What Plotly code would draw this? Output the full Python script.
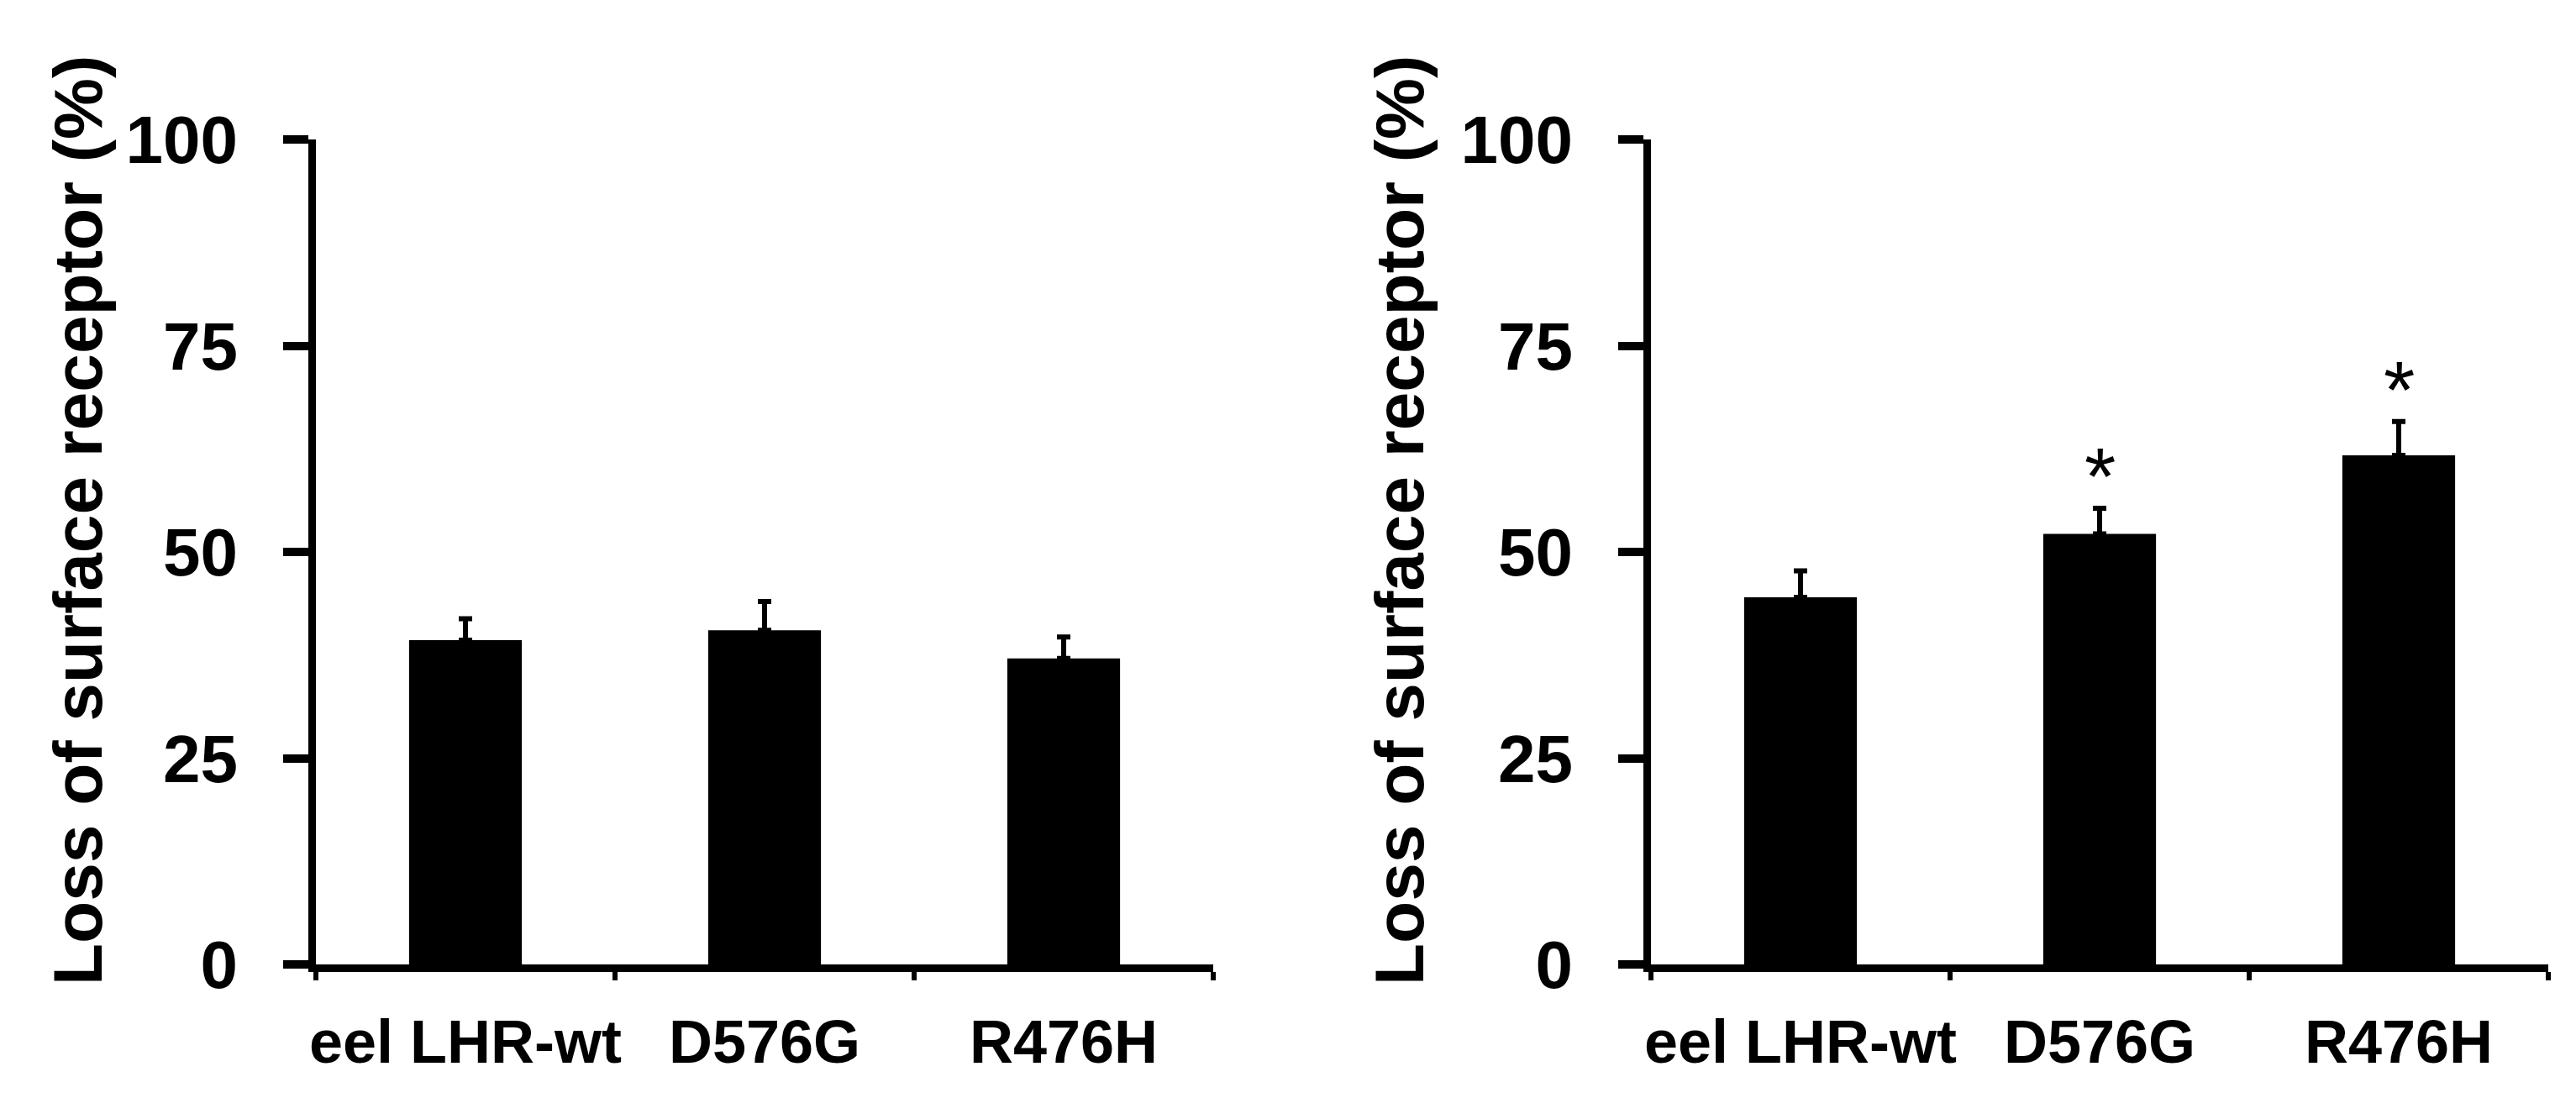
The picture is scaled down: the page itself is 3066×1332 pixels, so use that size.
import plotly.graph_objects as go

categories = ["eel LHR-wt", "D576G", "R476H"]
left_means = [39.3, 40.5, 37.1]
left_err = [2.6, 3.5, 2.6]
right_means = [44.5, 52.2, 61.7]
right_err = [3.2, 3.1, 4.1]
right_sig = ["", "*", "*"]
y_ticks = [0, 25, 50, 75, 100]
y_title = "Loss of surface receptor (%)"

W, H = 3066, 1332
FONT = "Liberation Sans, Arial, sans-serif"

fig = go.Figure()

for idx, (means, errs) in enumerate([(left_means, left_err), (right_means, right_err)]):
    ax = "" if idx == 0 else "2"
    fig.add_trace(go.Bar(
        x=categories, y=means,
        xaxis="x" + ax, yaxis="y" + ax,
        marker=dict(color="black", line=dict(width=0)),
        error_y=dict(type="data", symmetric=False, array=errs,
                     arrayminus=[0] * len(errs),
                     color="black", thickness=6, width=8),
        showlegend=False,
    ))

# significance markers on the right panel
for c, m, e, s in zip(categories, right_means, right_err, right_sig):
    if s:
        fig.add_annotation(x=c, y=m + e, xref="x2", yref="y2", text=s,
                           showarrow=False, yanchor="middle", yshift=38,
                           font=dict(family=FONT, size=96, color="black"))

# y-axis titles (rotated annotations placed where the reference has them)
for xc in [84 / W, 1657 / W]:
    fig.add_annotation(x=xc, y=1 - 612 / H, xref="paper", yref="paper",
                       text=y_title, textangle=-90, showarrow=False,
                       xanchor="center", yanchor="middle",
                       font=dict(family=FONT, size=82, color="black",
                                 weight="bold"))

ydom = [1 - 1140 / H, 1 - 158 / H]
xdom1 = [368 / W, 1436 / W]
xdom2 = [1957 / W, 3025 / W]

def xaxis(dom, anchor):
    return dict(domain=dom, anchor=anchor, type="category",
                range=[-0.5, 2.5], showline=True, linecolor="black",
                linewidth=9, ticks="outside", tickson="boundaries",
                ticklen=10, tickwidth=6, tickcolor="black", tickangle=0,
                tickfont=dict(family=FONT, size=72, color="black",
                              weight="bold"),
                ticklabelstandoff=22,
                showgrid=False, zeroline=False, automargin=False)

def yaxis(anchor):
    return dict(domain=ydom, anchor=anchor, range=[0, 100],
                tickvals=y_ticks, showline=True, linecolor="black",
                linewidth=9, ticks="outside", ticklen=30, tickwidth=10,
                tickcolor="black",
                tickfont=dict(family=FONT, size=80, color="black",
                              weight="bold"),
                ticklabelstandoff=38,
                showgrid=False, zeroline=False, automargin=False)

fig.update_layout(
    width=W, height=H,
    margin=dict(l=0, r=0, t=0, b=0),
    paper_bgcolor="white", plot_bgcolor="white",
    bargap=0.623,
    xaxis=xaxis(xdom1, "y"),
    yaxis=yaxis("x"),
    xaxis2=xaxis(xdom2, "y2"),
    yaxis2=yaxis("x2"),
)

fig.write_html("out.html")
